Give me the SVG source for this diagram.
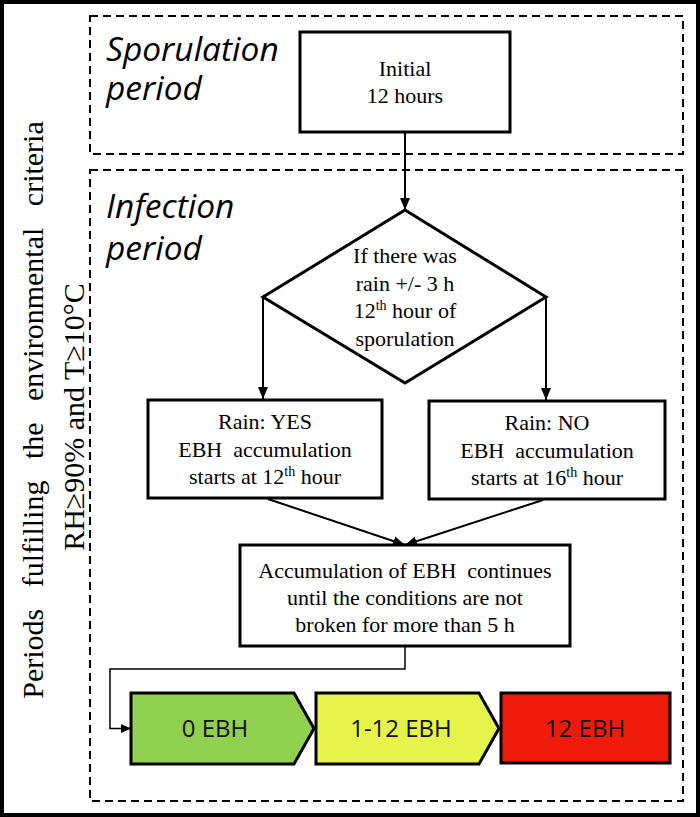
<svg xmlns="http://www.w3.org/2000/svg" width="700" height="817" viewBox="0 0 700 817">
<defs>
<style>
.box{fill:#fff;stroke:#000;stroke-width:3}
.dash{fill:none;stroke:#000;stroke-width:2;stroke-dasharray:8 5}
.serif{font-family:"Liberation Serif","Times New Roman",serif;font-size:22px;fill:#000;text-anchor:middle}
.ital{font-family:"Open Sans","Liberation Sans",sans-serif;font-style:italic;font-size:33.5px;fill:#000}
.stage{stroke:#000;stroke-width:3;stroke-linejoin:miter}
.stext{font-family:"Open Sans","Liberation Sans",sans-serif;font-size:24px;fill:#111;text-anchor:middle}
.conn{fill:none;stroke:#000;stroke-width:2}
.thin{fill:none;stroke:#000;stroke-width:1.5}
.side{font-family:"Liberation Serif","Times New Roman",serif;font-size:30px;fill:#000;text-anchor:middle}
.sup{font-size:14px}
</style>
<marker id="ah" markerUnits="userSpaceOnUse" markerWidth="12" markerHeight="12" viewBox="0 0 12 12" refX="12" refY="6" orient="auto"><path d="M0,1 L12,6 L0,11 z" fill="#000"/></marker>
<marker id="ahs" markerUnits="userSpaceOnUse" markerWidth="10" markerHeight="10" viewBox="0 0 10 10" refX="10" refY="5" orient="auto"><path d="M0,0.5 L10,5 L0,9.5 z" fill="#000"/></marker>
</defs>
<rect x="2" y="2" width="696" height="813" fill="#fff" stroke="#000" stroke-width="4"/>
<g id="side-label">
<text class="side" transform="translate(43,410) rotate(-90)" word-spacing="14">Periods fulfilling the environmental criteria</text>
<text class="side" transform="translate(84,417) rotate(-90)">RH≥90% and T≥10°C</text>
</g>
<g id="sporulation-period">
<rect class="dash" x="90" y="16" width="593" height="138"/>
<text class="ital" x="106" y="61">Sporulation<tspan x="106" y="100">period</tspan></text>
</g>
<g id="infection-period">
<rect class="dash" x="90" y="170" width="593" height="631"/>
<text class="ital" x="106" y="218">Infection<tspan x="106" y="260">period</tspan></text>
</g>
<g id="connectors">
<path class="conn" d="M405,132 V210" marker-end="url(#ah)"/>
<path class="conn" d="M263,297 V399" marker-end="url(#ah)"/>
<path class="conn" d="M546,297 V400" marker-end="url(#ah)"/>
<path class="conn" d="M268,499 L405,545" marker-end="url(#ah)"/>
<path class="conn" d="M543,500 L405,545" marker-end="url(#ah)"/>
<path class="thin" d="M405,646 V669 H110 V728.5 H131" marker-end="url(#ahs)"/>
</g>
<g id="initial">
<rect class="box" x="300" y="32" width="210" height="100"/>
<text class="serif" x="405" y="76">Initial</text>
<text class="serif" x="405" y="103">12 hours</text>
</g>
<g id="decision">
<polygon class="box" points="405,210 546,297 405,383 263,297"/>
<text class="serif" x="405" y="263">If there was</text>
<text class="serif" x="405" y="291">rain +/- 3 h</text>
<text class="serif" x="405" y="318">12<tspan class="sup" dy="-8">th</tspan><tspan dy="8"> hour of</tspan></text>
<text class="serif" x="405" y="346">sporulation</text>
</g>
<g id="rain-yes">
<rect class="box" x="148" y="400" width="234" height="98"/>
<text class="serif" x="265" y="429">Rain: YES</text>
<text class="serif" x="265" y="457">EBH&#160; accumulation</text>
<text class="serif" x="265" y="484">starts at 12<tspan class="sup" dy="-8">th</tspan><tspan dy="8"> hour</tspan></text>
</g>
<g id="rain-no">
<rect class="box" x="429" y="401" width="236" height="98"/>
<text class="serif" x="547" y="430">Rain: NO</text>
<text class="serif" x="547" y="458">EBH&#160; accumulation</text>
<text class="serif" x="547" y="485">starts at 16<tspan class="sup" dy="-8">th</tspan><tspan dy="8"> hour</tspan></text>
</g>
<g id="accumulation">
<rect class="box" x="240" y="545" width="330" height="101"/>
<text class="serif" x="405" y="578">Accumulation of EBH&#160; continues</text>
<text class="serif" x="405" y="605">until the conditions are not</text>
<text class="serif" x="405" y="632">broken for more than 5 h</text>
</g>
<g id="stage-0">
<polygon class="stage" fill="#92D050" points="131,693 294,693 314,728.5 294,764 131,764"/>
<text class="stext" x="215" y="737">0 EBH</text>
</g>
<g id="stage-1-12">
<polygon class="stage" fill="#E6F34B" points="316,693 479,693 499,728.5 479,764 316,764"/>
<text class="stext" x="401" y="737">1-12 EBH</text>
</g>
<g id="stage-12">
<rect class="stage" fill="#EE1A0A" x="501" y="693" width="169" height="70"/>
<text class="stext" x="585" y="737">12 EBH</text>
</g>
</svg>
